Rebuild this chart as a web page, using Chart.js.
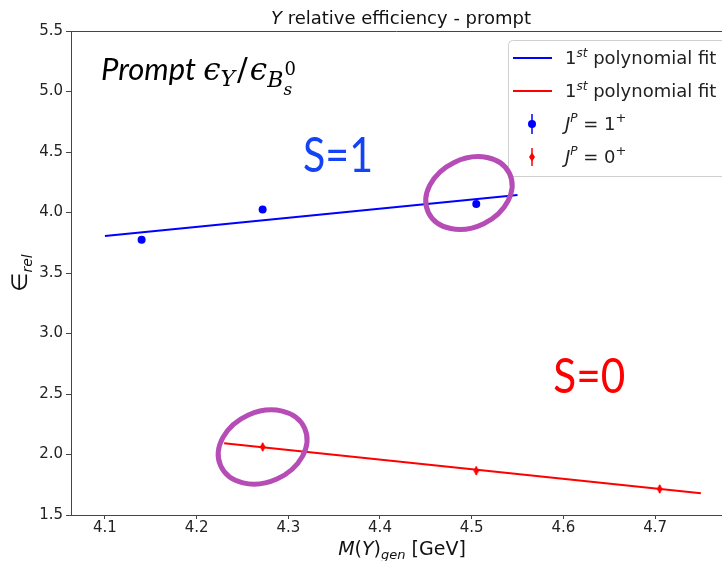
<!DOCTYPE html>
<html>
<head>
<meta charset="utf-8">
<script src="https://cdn.jsdelivr.net/npm/chart.js@4.4.0/dist/chart.umd.min.js"></script>
<style>
  html, body { margin: 0; padding: 0; background: #fff; overflow: hidden; }
  canvas { display: block; }
</style>
</head>
<body>
<canvas id="effChart" width="722" height="561"></canvas>
<script>
// J^P = 1+ (S=1) points
const massS1 = [4.14, 4.272, 4.505];
const effS1 = [3.775, 4.025, 4.07];
const errS1 = [0.02, 0.02, 0.02];
// J^P = 0+ (S=0) points
const massS0 = [4.272, 4.505, 4.705];
const effS0 = [2.062, 1.866, 1.715];
const errS0 = [0.035, 0.035, 0.035];
// 1st order polynomial fits (end points)
const fitS1Mass = [4.1, 4.55];
const fitS1Eff = [3.805, 4.145];
const fitS0Mass = [4.23, 4.75];
const fitS0Eff = [2.092, 1.68];
// hand drawn circles
const circleMass = [4.497, 4.272];
const circleEff = [4.161, 2.062];

const xTicks = [4.1, 4.2, 4.3, 4.4, 4.5, 4.6, 4.7];
const yTicks = [1.5, 2.0, 2.5, 3.0, 3.5, 4.0, 4.5, 5.0, 5.5];

const toPts = (xs, ys) => xs.map((x, i) => ({ x: x, y: ys[i] }));

// thin diamond marker like matplotlib 'd'
function thinDiamond(color) {
    const c = document.createElement('canvas');
    c.width = 8; c.height = 10;
    const g = c.getContext('2d');
    g.fillStyle = color;
    g.beginPath();
    g.moveTo(4, 0.5); g.lineTo(7, 5); g.lineTo(4, 9.5); g.lineTo(1, 5);
    g.closePath();
    g.fill();
    return c;
}
const redDiamond = thinDiamond('#ff0000');

// draw a list of text pieces one after another
function drawRuns(ctx, runs, x, y, align) {
    let total = 0;
    runs.forEach(r => {
        ctx.font = r.font;
        r.w = ctx.measureText(r.t).width + (r.gap || 0) * 2;
        if (!r.stack) total += r.w;
    });
    let cx = align === 'center' ? x - total / 2 : x;
    let prevW = 0;
    runs.forEach(r => {
        ctx.font = r.font;
        ctx.fillStyle = r.color || '#000';
        let px = r.stack ? cx - prevW : cx;
        ctx.fillText(r.t, px + (r.gap || 0), y + (r.dy || 0));
        if (!r.stack) { cx += r.w; prevW = r.w; }
    });
}

const decorPlugin = {
    id: 'decor',
    beforeDraw(chart) {
        const ctx = chart.ctx;
        ctx.save();
        ctx.fillStyle = '#fff';
        ctx.fillRect(0, 0, chart.width, chart.height);
        ctx.restore();
    },
    afterDatasetsDraw(chart) {
        const ctx = chart.ctx;
        const xs = chart.scales.x, ys = chart.scales.y;
        const area = chart.chartArea;
        ctx.save();

        // error bars
        ctx.lineWidth = 1.5;
        [[massS1, effS1, errS1, '#0000ff'], [massS0, effS0, errS0, '#ff0000']].forEach(set => {
            ctx.strokeStyle = set[3];
            set[0].forEach((m, i) => {
                const px = xs.getPixelForValue(m);
                ctx.beginPath();
                ctx.moveTo(px, ys.getPixelForValue(set[1][i] - set[2][i]));
                ctx.lineTo(px, ys.getPixelForValue(set[1][i] + set[2][i]));
                ctx.stroke();
            });
        });

        // top spine
        ctx.strokeStyle = '#444';
        ctx.lineWidth = 1;
        ctx.beginPath();
        ctx.moveTo(area.left, area.top + 0.5);
        ctx.lineTo(area.right, area.top + 0.5);
        ctx.stroke();

        // title
        ctx.textBaseline = 'alphabetic';
        drawRuns(ctx, [
            { t: 'Y', font: 'italic 18px "DejaVu Sans"', color: '#111' },
            { t: ' relative efficiency - prompt', font: '18px "DejaVu Sans"', color: '#111' }
        ], 401, 24, 'center');

        // x axis title
        drawRuns(ctx, [
            { t: 'M', font: 'italic 19px "DejaVu Sans"', color: '#111' },
            { t: '(', font: '19px "DejaVu Sans"', color: '#111' },
            { t: 'Y', font: 'italic 19px "DejaVu Sans"', color: '#111' },
            { t: ')', font: '19px "DejaVu Sans"', color: '#111' },
            { t: 'gen', font: 'italic 13px "DejaVu Sans"', dy: 4, color: '#111' },
            { t: ' [GeV]', font: '19px "DejaVu Sans"', color: '#111' }
        ], 402, 555, 'center');

        // y axis title
        ctx.save();
        ctx.translate(27, 273);
        ctx.rotate(-Math.PI / 2);
        drawRuns(ctx, [
            { t: '\u2208', font: '22px "DejaVu Sans"', color: '#111' },
            { t: 'rel', font: 'italic 14px "DejaVu Sans"', dy: 5, color: '#111' }
        ], 0, 0, 'center');
        ctx.restore();

        // Prompt label
        drawRuns(ctx, [
            { t: 'Prompt ', font: 'italic 31px Lato' },
            { t: '\u03f5', font: 'italic 31px "DejaVu Serif"' },
            { t: 'Y', font: 'italic 22px "DejaVu Serif"', dy: 6 },
            { t: '/', font: '32px "DejaVu Serif"', gap: 2 },
            { t: '\u03f5', font: 'italic 31px "DejaVu Serif"' },
            { t: 'B', font: 'italic 22px "DejaVu Serif"', dy: 7 },
            { t: '0', font: '18px "DejaVu Serif"', dy: -5, gap: 1 },
            { t: 's', font: 'italic 17px "DejaVu Serif"', dy: 15, stack: true }
        ], 101, 80, 'left');

        // S labels
        ctx.font = '48px Lato';
        ctx.fillStyle = '#1443f5';
        ctx.fillText('S=1', xs.getPixelForValue(4.316), ys.getPixelForValue(4.335), 70);
        ctx.fillStyle = '#ff0000';
        ctx.fillText('S=0', xs.getPixelForValue(4.589), ys.getPixelForValue(2.508), 72);

        // legend
        const lx = 508, ly = 40;
        ctx.fillStyle = 'rgba(255,255,255,0.85)';
        ctx.strokeStyle = '#d0d0d0';
        ctx.lineWidth = 1;
        ctx.beginPath();
        ctx.roundRect(lx + 0.5, ly + 0.5, 240, 136, 4);
        ctx.fill();
        ctx.stroke();

        const rows = [58, 91, 124, 157];
        const tx = 565;
        ctx.lineWidth = 2;
        ctx.strokeStyle = '#0000ff';
        ctx.beginPath(); ctx.moveTo(513, rows[0]); ctx.lineTo(552, rows[0]); ctx.stroke();
        ctx.strokeStyle = '#ff0000';
        ctx.beginPath(); ctx.moveTo(513, rows[1]); ctx.lineTo(552, rows[1]); ctx.stroke();
        // blue marker
        ctx.lineWidth = 1.5;
        ctx.strokeStyle = '#0000ff';
        ctx.beginPath(); ctx.moveTo(532, rows[2] - 10); ctx.lineTo(532, rows[2] + 10); ctx.stroke();
        ctx.fillStyle = '#0000ff';
        ctx.beginPath(); ctx.arc(532, rows[2], 4, 0, Math.PI * 2); ctx.fill();
        // red marker
        ctx.strokeStyle = '#ff0000';
        ctx.beginPath(); ctx.moveTo(532, rows[3] - 9); ctx.lineTo(532, rows[3] + 9); ctx.stroke();
        ctx.drawImage(redDiamond, 528, rows[3] - 5);

        const fitRuns = [
            { t: '1', font: '18px "DejaVu Sans"', color: '#222' },
            { t: 'st', font: 'italic 12px "DejaVu Sans"', dy: -7, color: '#222' },
            { t: ' polynomial fit', font: '18px "DejaVu Sans"', color: '#222' }
        ];
        drawRuns(ctx, fitRuns, tx, rows[0] + 6, 'left');
        drawRuns(ctx, fitRuns, tx, rows[1] + 6, 'left');
        [['1', rows[2]], ['0', rows[3]]].forEach(r => {
            drawRuns(ctx, [
                { t: 'J', font: 'italic 18px "DejaVu Sans"', color: '#222' },
                { t: 'P', font: 'italic 12px "DejaVu Sans"', dy: -8, color: '#222' },
                { t: ' = ', font: '18px "DejaVu Sans"', color: '#222' },
                { t: r[0], font: '18px "DejaVu Sans"', color: '#222' },
                { t: '+', font: '13px "DejaVu Sans"', dy: -8, color: '#222' }
            ], tx, r[1] + 6, 'left');
        });

        // hand drawn circles
        ctx.strokeStyle = '#b64cb5';
        ctx.lineWidth = 5;
        const shapes = [[45, 34, -0.45], [46, 35, -0.42]];
        circleMass.forEach((m, i) => {
            ctx.beginPath();
            ctx.ellipse(xs.getPixelForValue(m), ys.getPixelForValue(circleEff[i]),
                shapes[i][0], shapes[i][1], shapes[i][2], 0, Math.PI * 2);
            ctx.stroke();
        });

        ctx.restore();
    }
};

const ctx = document.getElementById('effChart').getContext('2d');
const effChart = new Chart(ctx, {
    type: 'scatter',
    data: {
        datasets: [
            {
                label: 'J^P = 1+',
                data: toPts(massS1, effS1),
                backgroundColor: '#0000ff',
                borderColor: '#0000ff',
                pointRadius: 4,
                pointBorderWidth: 0
            },
            {
                label: 'J^P = 0+',
                data: toPts(massS0, effS0),
                pointStyle: redDiamond,
                backgroundColor: '#ff0000',
                borderColor: '#ff0000'
            },
            {
                label: '1st polynomial fit',
                data: toPts(fitS1Mass, fitS1Eff),
                showLine: true,
                borderColor: '#0000ff',
                borderWidth: 2,
                pointRadius: 0
            },
            {
                label: '1st polynomial fit',
                data: toPts(fitS0Mass, fitS0Eff),
                showLine: true,
                borderColor: '#ff0000',
                borderWidth: 2,
                pointRadius: 0
            }
        ]
    },
    options: {
        responsive: false,
        animation: false,
        devicePixelRatio: 1,
        layout: { autoPadding: false, padding: { top: 31, left: 0, right: 0, bottom: 0 } },
        plugins: {
            legend: { display: false },
            tooltip: { enabled: false },
            title: { display: false }
        },
        scales: {
            x: {
                type: 'linear',
                min: 4.063,
                max: 4.773,
                afterBuildTicks: s => { s.ticks = xTicks.map(v => ({ value: v })); },
                afterFit: s => { s.height = 46; },
                ticks: {
                    callback: v => v.toFixed(1),
                    font: { family: 'DejaVu Sans', size: 15 },
                    color: '#222',
                    padding: 0,
                    maxRotation: 0
                },
                grid: { drawOnChartArea: false, drawTicks: true, tickLength: 4, color: '#444' },
                border: { display: true, color: '#444' }
            },
            y: {
                min: 1.5,
                max: 5.5,
                afterBuildTicks: s => { s.ticks = yTicks.map(v => ({ value: v })); },
                afterFit: s => { s.width = 71; },
                ticks: {
                    callback: v => v.toFixed(1),
                    font: { family: 'DejaVu Sans', size: 15 },
                    color: '#222',
                    padding: 3
                },
                grid: { drawOnChartArea: false, drawTicks: true, tickLength: 5, color: '#444' },
                border: { display: true, color: '#444' }
            }
        }
    },
    plugins: [decorPlugin]
});
</script>
</body>
</html>
